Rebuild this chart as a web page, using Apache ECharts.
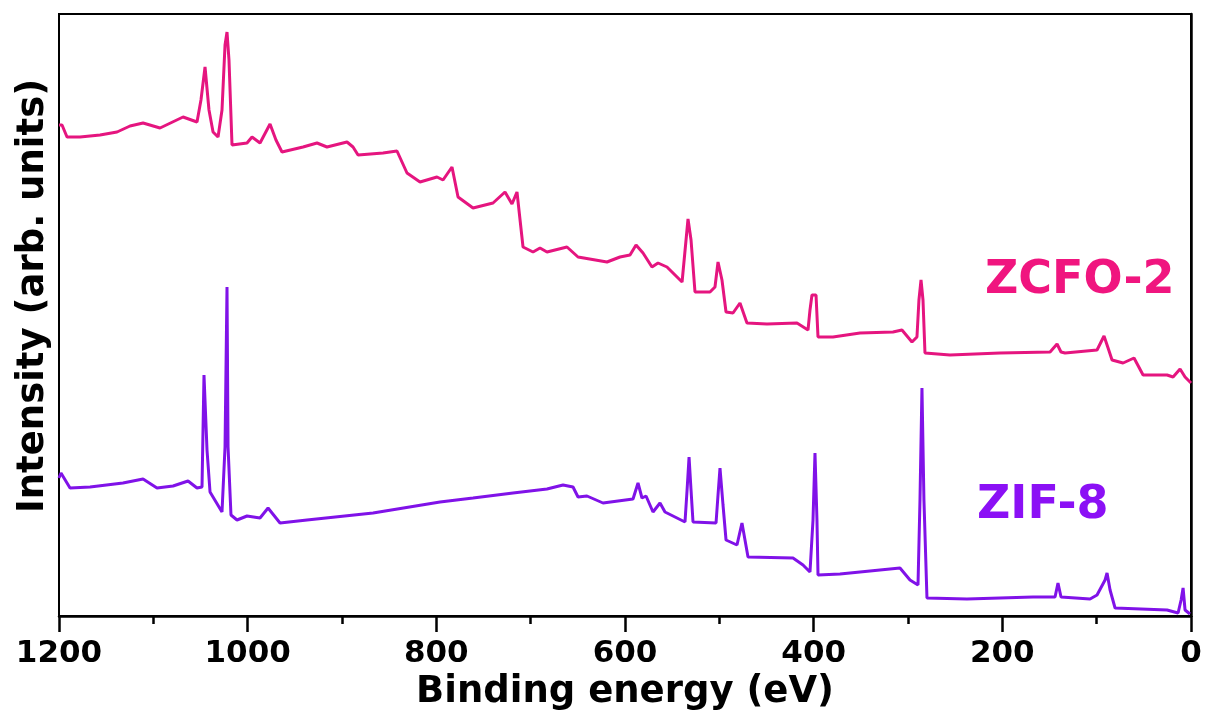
<!DOCTYPE html>
<html>
<head>
<meta charset="utf-8">
<script src="https://cdn.jsdelivr.net/npm/echarts@6/dist/echarts.min.js"></script>
<style>
html,body{margin:0;padding:0;background:#fff;}
#chart{width:1205px;height:722px;}
</style>
</head>
<body>
<div id="chart"></div>
<script>
// Binding energy (eV) and intensity (arb. units)
var zcfoEnergy = [1200,1196.8,1191.5,1177.7,1156.5,1138.5,1124.7,1110.9,1092.9,1068.5,1053.7,1049.5,1045.2,1041.0,1036.7,1031.4,1027.2,1024.0,1021.9,1019.8,1016.6,1000.7,995.4,986.9,976.3,970.0,963.6,941.3,926.5,915.9,894.7,888.3,883.0,856.5,841.7,831.1,817.3,799.3,792.9,783.4,777.0,761.1,739.9,727.2,719.8,714.5,708.1,697.5,690.1,682.7,661.5,649.8,619.1,605.3,594.7,588.3,580.9,571.4,565.0,555.5,539.5,535.3,533.2,530.0,525.8,509.9,504.6,501.4,497.2,492.9,485.5,478.1,470.7,449.5,417.7,406.0,403.9,401.8,397.5,395.4,379.5,350.9,315.9,306.4,295.8,290.5,288.4,286.2,284.1,282.0,255.5,202.5,149.4,142.0,137.8,133.5,99.6,92.2,87.9,83.7,72.0,60.4,50.8,25.4,19.0,11.6,6.3,0];
var zcfoIntensity = [491,491,479,479,481,484,490,493,488,499,494,516,549,506,484,479,506,571,584,556,471,473,479,473,492,476,464,469,473,469,474,469,461,463,465,443,434,439,436,449,419,408,413,424,412,424,369,364,368,364,369,359,354,359,361,371,363,349,353,349,334,376,397,376,324,324,329,354,336,304,303,313,293,292,293,286,306,321,321,279,279,283,284,286,274,279,316,336,316,263,261,263,264,272,264,263,266,280,268,256,253,258,241,241,239,247,239,233];

var zifEnergy = [1200,1197.9,1195.8,1188.3,1167.1,1132.2,1110.9,1096.1,1079.1,1063.2,1053.7,1048.4,1046.3,1043.1,1039.9,1027.2,1024.0,1021.9,1020.8,1017.7,1011.3,1000.7,986.9,978.4,965.7,937.1,867.1,796.1,761.1,718.7,682.7,665.7,655.1,649.8,640.3,623.3,591.5,586.2,582.0,577.7,570.3,562.9,557.6,536.4,534.2,532.1,530.0,527.9,503.5,501.4,499.3,496.1,492.9,481.3,476.0,469.6,421.9,411.3,403.9,400.7,398.6,396.5,395.4,372.1,308.5,297.9,289.4,287.3,285.2,283.1,279.9,237.5,167.5,144.1,141.0,137.8,107.0,99.6,91.1,89.0,85.8,80.5,25.4,13.7,10.5,8.4,6.3,1.1];
var zifIntensity = [138,143,141,128,129,133,137,128,130,135,128,129,241,166,124,104,169,329,169,101,96,100,98,108,93,96,103,114,118,123,127,131,129,119,120,113,117,133,118,120,104,113,104,94,126,159,126,94,93,121,148,111,76,71,93,59,58,51,44,96,163,96,41,42,48,36,31,116,228,116,18,17,19,19,33,19,17,21,36,43,26,8,6,3,16,28,6,2];

var xTicks = [0,200,400,600,800,1000,1200];
var seriesNames = ['ZCFO-2','ZIF-8'];
var xTitle = 'Binding energy (eV)';
var yTitle = 'Intensity (arb. units)';

function pairs(xs, ys){ return xs.map(function(x,i){ return [x, ys[i]]; }); }

var chart = echarts.init(document.getElementById('chart'), null, {renderer:'canvas'});
var font = 'DejaVu Sans';
chart.setOption({
  animation:false,
  backgroundColor:'#ffffff',
  grid:{left:59, right:14, top:14, bottom:106, show:true, borderColor:'#000', borderWidth:2, backgroundColor:'transparent'},
  xAxis:{
    type:'value', min:0, max:1200, interval:200, inverse:true,
    name:xTitle, nameLocation:'middle', nameGap:52,
    nameTextStyle:{fontFamily:font, fontWeight:'bold', fontSize:37, color:'#000'},
    axisLine:{show:true, lineStyle:{color:'#000', width:2.5}},
    axisTick:{show:true, inside:false, length:16, lineStyle:{color:'#000', width:2.5}},
    minorTick:{show:true, splitNumber:2, length:8, lineStyle:{color:'#000', width:2.5}},
    axisLabel:{fontFamily:font, fontWeight:'bold', fontSize:31, color:'#000', margin:22,
      formatter:function(v){ return xTicks.indexOf(v)>=0 ? String(v) : ''; }},
    splitLine:{show:false}
  },
  yAxis:{
    type:'value', min:0, max:602,
    axisLine:{show:true, lineStyle:{color:'#000', width:2.5}},
    axisTick:{show:false}, axisLabel:{show:false}, splitLine:{show:false}
  },
  series:[
    {name:seriesNames[0], type:'line', data:pairs(zcfoEnergy, zcfoIntensity), showSymbol:false, symbol:'none',
     lineStyle:{color:'#E5157F', width:3}, clip:true},
    {name:seriesNames[1], type:'line', data:pairs(zifEnergy, zifIntensity), showSymbol:false, symbol:'none',
     lineStyle:{color:'#8012E8', width:3}, clip:true}
  ],
  graphic:[
    {type:'text', x:33, y:296, rotation:Math.PI/2,
     style:{text:yTitle, fontFamily:font, fontWeight:'bold', fontSize:37, fill:'#000', align:'center', verticalAlign:'middle'}},
    {type:'text', left:985, top:258, style:{text:seriesNames[0], fontFamily:font, fontWeight:'bold', fontSize:46, fill:'#F0157F'}},
    {type:'text', left:977, top:483, style:{text:seriesNames[1], fontFamily:font, fontWeight:'bold', fontSize:46, fill:'#8B10F5'}}
  ]
});
</script>
</body>
</html>
